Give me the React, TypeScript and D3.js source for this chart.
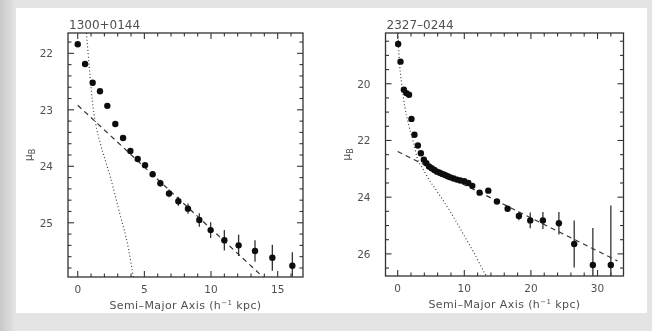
import React from 'react'
import * as d3 from 'd3'

// 1300+0144 : surface brightness profile
const L_R = [0, 0.55, 1.12, 1.67, 2.22, 2.82, 3.4, 3.95, 4.5, 5.05, 5.62, 6.2, 6.85, 7.55, 8.27, 9.12, 9.97, 11.0, 12.07, 13.3, 14.6, 16.1]
const L_MU = [21.84, 22.19, 22.52, 22.67, 22.93, 23.25, 23.5, 23.73, 23.87, 23.98, 24.14, 24.3, 24.48, 24.62, 24.75, 24.95, 25.13, 25.31, 25.4, 25.5, 25.62, 25.76]
const L_ERR = [0.02, 0.02, 0.02, 0.02, 0.02, 0.02, 0.03, 0.03, 0.03, 0.04, 0.05, 0.06, 0.07, 0.08, 0.09, 0.12, 0.14, 0.18, 0.19, 0.19, 0.23, 0.24]
const L_DISK_R = [0, 16]
const L_DISK_MU = [22.92, 26.42]
const L_BULGE_R = [0.65, 0.78, 0.92, 1.1, 1.35, 1.7, 2.4, 3.17, 3.8, 4.17]
const L_BULGE_MU = [21.64, 22.0, 22.4, 22.85, 23.25, 23.6, 24.15, 24.85, 25.45, 25.96]

// 2327-0244
const R_R = [0.07, 0.42, 0.93, 1.3, 1.7, 2.07, 2.52, 3.03, 3.48, 3.93, 4.3, 4.7, 5.1, 5.5, 5.9, 6.3, 6.7, 7.1, 7.5, 7.9, 8.4, 8.9, 9.4, 10.0, 10.6, 11.2, 12.3, 13.6, 14.9, 16.5, 18.2, 19.9, 21.8, 24.2, 26.5, 29.3, 32.0]
const R_MU = [18.6, 19.22, 20.21, 20.33, 20.39, 21.24, 21.8, 22.18, 22.45, 22.68, 22.8, 22.92, 22.98, 23.04, 23.1, 23.14, 23.18, 23.22, 23.26, 23.3, 23.34, 23.38, 23.41, 23.44, 23.5, 23.6, 23.84, 23.77, 24.15, 24.41, 24.66, 24.82, 24.82, 24.92, 25.65, 26.39, 26.39]
const R_ERR = [0.02, 0.02, 0.02, 0.02, 0.02, 0.02, 0.02, 0.02, 0.02, 0.02, 0.02, 0.02, 0.02, 0.02, 0.02, 0.02, 0.02, 0.02, 0.02, 0.02, 0.02, 0.02, 0.03, 0.03, 0.03, 0.04, 0.05, 0.06, 0.07, 0.08, 0.15, 0.28, 0.3, 0.4, 0.83, 1.3, 2.1]
const R_DISK_R = [0, 33]
const R_DISK_MU = [22.39, 26.25]
const R_BULGE_R = [0.05, 0.2, 0.6, 1.1, 1.6, 2.4, 2.9, 3.8, 4.5, 6.1, 8.0, 9.6, 11.3, 13.1, 13.3]
const R_BULGE_MU = [18.21, 19.0, 20.0, 20.85, 21.4, 22.1, 22.6, 23.0, 23.3, 23.86, 24.55, 25.2, 25.9, 26.7, 26.78]

const L_XTICKS = [0, 5, 10, 15]
const L_YTICKS = [22, 23, 24, 25]
const R_XTICKS = [0, 10, 20, 30]
const R_YTICKS = [20, 22, 24, 26]

const INK = '#333'
const TXT = '#505050'
const FONT = 'DejaVu Sans, sans-serif'

type PanelProps = {
  id: string
  title: string
  box: { x0: number; x1: number; y0: number; y1: number }
  xDom: [number, number]
  yDom: [number, number]
  xMajor: number[]
  xMinorStep: number
  yMajor: number[]
  yMinorStep: number
  r: number[]
  mu: number[]
  err: number[]
  diskR: number[]
  diskMu: number[]
  bulgeR: number[]
  bulgeMu: number[]
}

function Panel(p: PanelProps) {
  const { x0, x1, y0, y1 } = p.box
  const x = d3.scaleLinear().domain(p.xDom).range([x0, x1])
  const y = d3.scaleLinear().domain(p.yDom).range([y0, y1])

  const xMinor = d3.range(Math.ceil(p.xDom[0] / p.xMinorStep) * p.xMinorStep, p.xDom[1], p.xMinorStep)
  const yMinor = d3.range(Math.ceil(p.yDom[0] / p.yMinorStep) * p.yMinorStep, p.yDom[1], p.yMinorStep)
  const isMajor = (v: number, list: number[]) => list.some(t => Math.abs(t - v) < 1e-6)

  const line = d3.line<[number, number]>().x(d => x(d[0])).y(d => y(d[1]))
  const curve = d3.line<[number, number]>().x(d => x(d[0])).y(d => y(d[1])).curve(d3.curveMonotoneX)

  const disk = p.diskR.map((v, i) => [v, p.diskMu[i]] as [number, number])
  const bulge = p.bulgeR.map((v, i) => [v, p.bulgeMu[i]] as [number, number])

  const MAJ = 6
  const MIN = 3.5

  return (
    <g>
      <defs>
        <clipPath id={p.id}>
          <rect x={x0} y={y0} width={x1 - x0} height={y1 - y0} />
        </clipPath>
      </defs>

      <text x={x0 + 1} y={y0 - 4} fontFamily={FONT} fontSize={12} fill={TXT}>{p.title}</text>

      <g clipPath={`url(#${p.id})`}>
        <path d={curve(bulge) ?? ''} fill="none" stroke={INK} strokeWidth={1.1} strokeDasharray="1,2.4" />
        <path d={line(disk) ?? ''} fill="none" stroke={INK} strokeWidth={1.2} strokeDasharray="5,4" />
        {p.r.map((v, i) => (
          <line key={'e' + i} x1={x(v)} x2={x(v)} y1={y(p.mu[i] - p.err[i])} y2={y(p.mu[i] + p.err[i])}
            stroke={INK} strokeWidth={1.3} />
        ))}
        {p.r.map((v, i) => (
          <circle key={'p' + i} cx={x(v)} cy={y(p.mu[i])} r={3.2} fill="#111" />
        ))}
      </g>

      {/* ticks, inward on all four sides */}
      {xMinor.map((v, i) => {
        const len = isMajor(v, p.xMajor) ? MAJ : MIN
        return (
          <g key={'xt' + i} stroke={INK} strokeWidth={1.1}>
            <line x1={x(v)} x2={x(v)} y1={y1} y2={y1 - len} />
            <line x1={x(v)} x2={x(v)} y1={y0} y2={y0 + len} />
          </g>
        )
      })}
      {yMinor.map((v, i) => {
        const len = isMajor(v, p.yMajor) ? MAJ : MIN
        return (
          <g key={'yt' + i} stroke={INK} strokeWidth={1.1}>
            <line x1={x0} x2={x0 + len} y1={y(v)} y2={y(v)} />
            <line x1={x1} x2={x1 - len} y1={y(v)} y2={y(v)} />
          </g>
        )
      })}
      <rect x={x0} y={y0} width={x1 - x0} height={y1 - y0} fill="none" stroke={INK} strokeWidth={1.3} />

      {p.xMajor.map(v => (
        <text key={'xl' + v} x={x(v)} y={y1 + 16} textAnchor="middle" fontFamily={FONT} fontSize={10.5} fill={TXT}>{v}</text>
      ))}
      {p.yMajor.map(v => (
        <text key={'yl' + v} x={x0 - 15} y={y(v) + 4} textAnchor="end" fontFamily={FONT} fontSize={10.5} fill={TXT}>{v}</text>
      ))}

      <text x={(x0 + x1) / 2} y={y1 + 32} textAnchor="middle" fontFamily={FONT} fontSize={11} fill={TXT} letterSpacing={0.4}>
        Semi–Major Axis (h<tspan dy={-4} fontSize={7}>−1</tspan><tspan dy={4}> kpc)</tspan>
      </text>
      <text transform={`translate(${x0 - 36},${(y0 + y1) / 2}) rotate(-90)`} textAnchor="middle" fontFamily={FONT} fontSize={11} fill={TXT}>
        μ<tspan dy={3} fontSize={8}>B</tspan>
      </text>
    </g>
  )
}

export default function App() {
  const W = 652
  const H = 331
  return (
    <svg width={W} height={H} style={{ position: 'absolute', left: 0, top: 0, display: 'block' }}>
      <defs>
        <linearGradient id="edge" x1="0" x2="1" y1="0" y2="0">
          <stop offset="0" stopColor="#c9c9c9" />
          <stop offset="1" stopColor="#e4e4e4" />
        </linearGradient>
        <filter id="soft" filterUnits="userSpaceOnUse" x="0" y="0" width={W} height={H}>
          <feGaussianBlur stdDeviation="0.35" />
        </filter>
      </defs>
      <rect x={0} y={0} width={W} height={H} fill="#e4e4e4" />
      <rect x={0} y={0} width={16} height={H} fill="url(#edge)" />
      <rect x={16} y={8} width={631} height={305} fill="#fff" />

      <g filter="url(#soft)">
        <Panel id="clipL" title="1300+0144"
          box={{ x0: 68, x1: 303, y0: 33, y1: 277 }}
          xDom={[-0.73, 16.9]} yDom={[21.64, 25.96]}
          xMajor={L_XTICKS} xMinorStep={1} yMajor={L_YTICKS} yMinorStep={0.2}
          r={L_R} mu={L_MU} err={L_ERR}
          diskR={L_DISK_R} diskMu={L_DISK_MU} bulgeR={L_BULGE_R} bulgeMu={L_BULGE_MU} />

        <Panel id="clipR" title="2327–0244"
          box={{ x0: 385.5, x1: 623.5, y0: 33, y1: 276 }}
          xDom={[-1.83, 33.9]} yDom={[18.21, 26.78]}
          xMajor={R_XTICKS} xMinorStep={2} yMajor={R_YTICKS} yMinorStep={0.5}
          r={R_R} mu={R_MU} err={R_ERR}
          diskR={R_DISK_R} diskMu={R_DISK_MU} bulgeR={R_BULGE_R} bulgeMu={R_BULGE_MU} />
      </g>
    </svg>
  )
}
